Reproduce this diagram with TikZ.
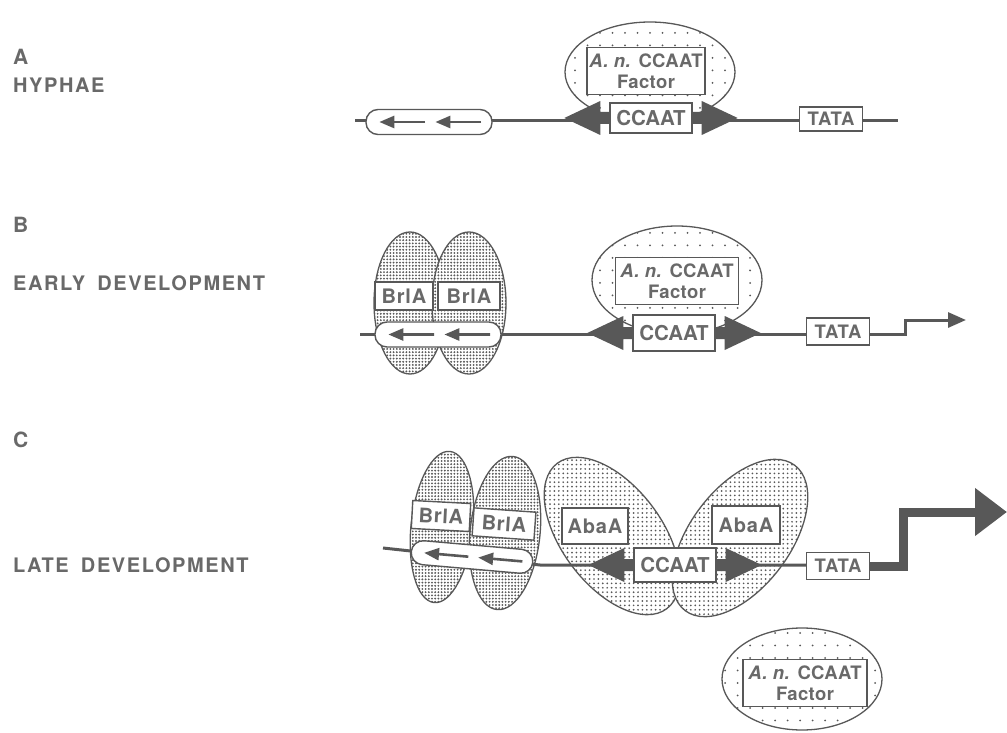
\documentclass[tikz,border=0pt]{standalone}
\usepackage{fontspec}
\setsansfont{TeX Gyre Heros}
\usetikzlibrary{arrows.meta,shapes.geometric,patterns.meta,calc}
\definecolor{ink}{RGB}{88,88,88}
\definecolor{txt}{RGB}{105,105,105}

\begin{document}
\begin{tikzpicture}[x=1pt,y=-1pt,dna/.style={draw=ink, line width=3pt},site/.style={draw=ink, line width=1.4pt, fill=white, text=txt, inner sep=0pt, minimum width=82pt, minimum height=30pt, font=\sffamily\bfseries\fontsize{20.5}{20.5}\selectfont},tag/.style={site, minimum width=58pt, minimum height=28pt, font=\sffamily\bfseries\fontsize{20}{20}\selectfont\addfontfeature{LetterSpace=4}},tata/.style={site, minimum width=63pt, minimum height=24pt, font=\sffamily\bfseries\fontsize{18.5}{18.5}\selectfont\addfontfeature{LetterSpace=4}},pill/.style={draw=ink, line width=1.4pt, fill=white, rounded corners=12pt, minimum width=126pt, minimum height=25pt, inner sep=0pt},pillarrow/.style={ink, line width=2.6pt, -{Triangle[length=15pt,width=12pt]}},factor/.style={ellipse, draw=ink, line width=1.3pt, inner sep=0pt, preaction={fill=white}, pattern={Dots[distance=12.5pt,radius=1pt]}, pattern color=ink},factorbox/.style={draw=ink, line width=1.3pt, fill=white, text=txt, align=center, inner sep=0pt, minimum width=118pt, minimum height=47pt, font=\sffamily\bfseries\fontsize{18.5}{21}\selectfont\addfontfeature{LetterSpace=2}},brla/.style={ellipse, draw=ink, line width=1.3pt, inner sep=0pt, preaction={fill=white}, pattern={Dots[distance=3.2pt,radius=1.05pt]}, pattern color=ink},abaa/.style={brla, pattern={Dots[distance=4.4pt,radius=0.95pt]}},panel/.style={anchor=base west, inner sep=0pt, text=txt, font=\sffamily\bfseries\fontsize{21}{21}\selectfont},stage/.style={panel, font=\sffamily\bfseries\fontsize{20}{20}\selectfont\addfontfeature{LetterSpace=8}}]
\useasboundingbox (0,0) rectangle (1007,733);
% panel labels
\node[panel] (lblA) at (13,65) {A}; \node[stage] (stgA) at (13,93) {HYPHAE};
\node[panel] (lblB) at (13,233) {B}; \node[stage] (stgB) at (13,290) {EARLY\hspace{5pt} DEVELOPMENT};
\node[panel] (lblC) at (13,447) {C}; \node[stage] (stgC) at (13,572) {LATE\hspace{5pt} DEVELOPMENT};
% A: hyphae
\node[factor, minimum width=170pt, minimum height=100pt] (fA) at (650,72) {};
\node[factorbox] (nA) at (646,71) {\textit{A. n.} CCAAT\\Factor};
\coordinate (dA0) at (355,121); \coordinate (dA1) at (898,121); \draw[dna] (dA0) -- (dA1);
\node[pill] (pA) at (429,122) {};
\node[site] (cA) at (651,118) {CCAAT}; \node[tata] (tA) at (831,119) {TATA};
% B: early development
\node[brla, minimum width=72pt, minimum height=142pt] (bB1) at (410,303) {};
\node[brla, minimum width=74pt, minimum height=142pt] (bB2) at (469,303) {};
\node[tag] (rB1) at (404,296) {BrlA}; \node[tag, minimum width=62pt] (rB2) at (469,296) {BrlA};
\node[factor, minimum width=170pt, minimum height=108pt] (fB) at (677,280) {};
\node[factorbox, minimum width=123pt] (nB) at (677,281) {\textit{A. n.} CCAAT\\Factor};
\coordinate (dB0) at (360,334); \coordinate (dB1) at (905,334); \coordinate (dB2) at (966,320);
\draw[dna, -{Triangle[length=18pt,width=15pt]}] (dB0) -- (dB1) |- (dB2);
\node[pill] (pB) at (438,334.5) {};
\node[site, minimum height=36pt] (cB) at (674,333) {CCAAT}; \node[tata, minimum height=27pt] (tB) at (838,331.5) {TATA};
% C: late development
\node[brla, minimum width=62pt, minimum height=152pt, rotate=-6] (bC1) at (442,527) {};
\node[brla, minimum width=70pt, minimum height=154pt, rotate=-6] (bC2) at (505,533) {};
\node[abaa, minimum width=100pt, minimum height=182pt, rotate=37] (gC1) at (612,536) {};
\node[abaa, minimum width=100pt, minimum height=182pt, rotate=-37] (gC2) at (740,538) {};
\node[tag, rotate=-3] (rC1) at (441,516) {BrlA}; \node[tag, minimum width=62pt, rotate=-4] (rC2) at (504,524) {BrlA};
\node[tag, minimum width=66pt, minimum height=36pt] (qC1) at (595,526) {AbaA}; \node[tag, minimum width=68pt, minimum height=38pt] (qC2) at (746,525) {AbaA};
\coordinate (dC0) at (383,548); \coordinate (dC1) at (540,565); \coordinate (dC2) at (870,565); \draw[dna] (dC0) -- (dC1) -- (dC2);
\node[pill, minimum width=122pt, minimum height=24pt, rotate=-5] (pC) at (472,557) {};
\node[site, minimum height=34pt] (cC) at (675,565) {CCAAT}; \node[tata, minimum height=27pt] (tC) at (838,566) {TATA};
\coordinate (dC3) at (903,566); \coordinate (dC4) at (1007,512);
\draw[ink, line width=9pt, -{Triangle[length=32pt,width=46pt]}] (tC.east) -- (dC3) |- (dC4);
% arrows in the pills and round the CCAAT boxes
\foreach \p in {pA,pB,pC} \foreach \f/\g in {0.47/0.11,0.91/0.55} \draw[pillarrow] ($(\p.west)!\f!(\p.east)$) -- ($(\p.west)!\g!(\p.east)$);
\foreach \b in {cA,cB,cC} {
  \fill[ink] (\b.west) ++(0,-6) -- ++(-9,0) -- ++(0,-11) -- ++(-36,17) -- ++(36,17) -- ++(0,-11) -- ++(9,0) -- cycle;
  \fill[ink] (\b.east) ++(0,-6) -- ++(9,0) -- ++(0,-11) -- ++(36,17) -- ++(-36,17) -- ++(0,-11) -- ++(-9,0) -- cycle;
}
% free factor
\node[factor, minimum width=160pt, minimum height=102pt] (fD) at (802,679) {};
\node[factorbox, minimum width=124pt] (nD) at (805,683) {\textit{A. n.} CCAAT\\Factor};
\end{tikzpicture}
\end{document}
